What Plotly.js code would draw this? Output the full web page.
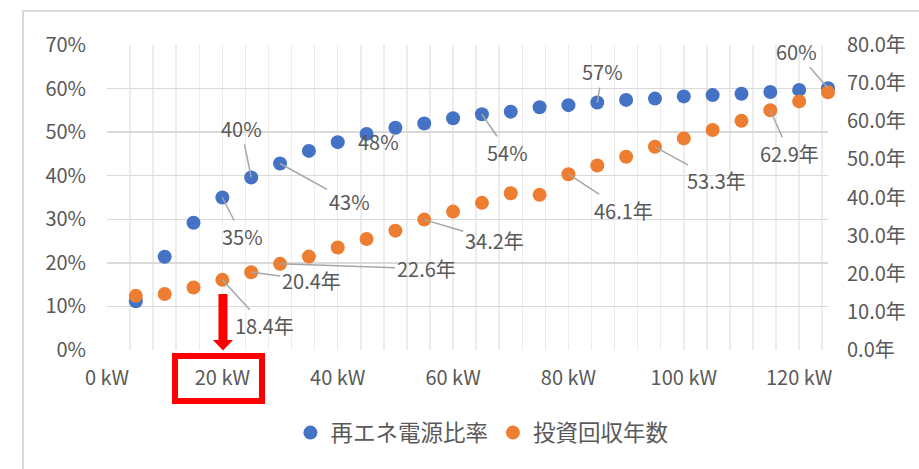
<!DOCTYPE html>
<html>
<head>
<meta charset="utf-8">
<script src="https://cdn.plot.ly/plotly-3.0.1.min.js"></script>
<style>
html,body{margin:0;padding:0;background:#fff;overflow:hidden;}
#chart{width:919px;height:469px;}
#frame{position:absolute;left:22px;top:10px;width:2000px;height:2000px;border:2px solid #d9d9d9;pointer-events:none;}
</style>
</head>
<body>
<div id="chart"></div>
<div id="frame"></div>
<script>
// ---- data ----
const capacityKW = [5,10,15,20,25,30,35,40,45,50,55,60,65,70,75,80,85,90,95,100,105,110,115,120,125];
const renewableRatio = [11.2,21.4,29.2,35.0,39.6,42.8,45.7,47.7,49.6,51.0,52.0,53.2,54.1,54.7,55.7,56.2,56.8,57.4,57.7,58.2,58.5,58.8,59.2,59.7,60.1];
const paybackYears = [14.2,14.7,16.4,18.4,20.4,22.6,24.5,26.9,29.1,31.3,34.2,36.3,38.6,41.1,40.7,46.1,48.4,50.7,53.3,55.5,57.7,60.1,62.9,65.2,67.6];
const seriesNames = ['再エネ電源比率','投資回収年数'];
// labelled points: index and label offsets (px)
const ratioLabelIdx = [3,4,5,7,12,16,24];
const ratioLabelOff = [[20,39],[-10,-49],[69,38],[41,-1],[26,38],[5,-31],[-32,-37]];
const ratioLabelArrow = [true,true,true,false,true,true,true];
const yearLabelIdx = [3,4,5,10,15,18,22];
const yearLabelOff = [[42,46],[60,8],[146,5],[70,21],[55,36],[62,34],[19,43]];

const FONT = '"Noto Sans CJK JP", "Noto Sans", sans-serif';
const TXT = '#595959';
const BLUE = '#4472C4', ORANGE = '#ED7D31';

const traces = [
  {x: capacityKW, y: renewableRatio, name: seriesNames[0], type:'scatter', mode:'markers',
   marker:{color:BLUE, size:14}, yaxis:'y', cliponaxis:false},
  {x: capacityKW, y: paybackYears, name: seriesNames[1], type:'scatter', mode:'markers',
   marker:{color:ORANGE, size:14}, yaxis:'y2', cliponaxis:false}
];

const annotations = [];
ratioLabelIdx.forEach((i,k)=>{
  const a = {x: capacityKW[i], y: renewableRatio[i], xref:'x', yref:'y',
    text: Math.round(renewableRatio[i]) + '%', font:{family:FONT, size:20, color:TXT}};
  if (ratioLabelArrow[k]) {
    Object.assign(a, {showarrow:true, arrowhead:0, arrowwidth:1.5, arrowcolor:'#a6a6a6',
      ax: ratioLabelOff[k][0], ay: ratioLabelOff[k][1], standoff:0});
  } else {
    Object.assign(a, {showarrow:false, xshift: ratioLabelOff[k][0], yshift: -ratioLabelOff[k][1]});
  }
  annotations.push(a);
});
yearLabelIdx.forEach((i,k)=>{
  annotations.push({x: capacityKW[i], y: paybackYears[i], xref:'x', yref:'y2',
    text: paybackYears[i].toFixed(1) + '年', font:{family:FONT, size:20, color:TXT},
    showarrow:true, arrowhead:0, arrowwidth:1.5, arrowcolor:'#a6a6a6',
    ax: yearLabelOff[k][0], ay: yearLabelOff[k][1], standoff:0});
});

const layout = {
  width:919, height:469,
  margin:{l:107, r:91, t:45, b:119},
  paper_bgcolor:'#fff', plot_bgcolor:'#fff',
  font:{family:FONT, size:20, color:TXT},
  showlegend:true,
  legend:{orientation:'h', x:0.52, xanchor:'center', y:-0.272, yanchor:'middle',
    font:{family:FONT, size:22.5, color:TXT}, itemwidth:30, tracegroupgap:0},
  xaxis:{range:[0,125], dtick:20, tick0:0, ticksuffix:' kW', showgrid:true,
    gridcolor:'#ececec', gridwidth:1.5, zeroline:false, showline:false, ticks:'',
    ticklabelstandoff:14,
    minor:{dtick:4, tick0:0, showgrid:true, gridcolor:'#ececec', gridwidth:1.5},
    tickfont:{family:FONT, size:20, color:TXT}},
  yaxis:{range:[0,70], dtick:10, ticksuffix:'%', showgrid:true, gridcolor:'#d9d9d9', gridwidth:1.5,
    zeroline:false, showline:false, ticks:'', ticklabelstandoff:20,
    tickfont:{family:FONT, size:20, color:TXT}},
  yaxis2:{range:[0,80], dtick:10, tickformat:'.1f', ticksuffix:'年', overlaying:'y', side:'right',
    showgrid:false, zeroline:false, showline:false, ticks:'', ticklabelstandoff:18,
    tickfont:{family:FONT, size:20, color:TXT}},
  annotations: annotations,
  shapes:[
    {type:'rect', xref:'paper', yref:'paper', x0:0.0943, x1:0.215, y0:-0.0197, y1:-0.167,
     line:{color:'#ff0000', width:6}, fillcolor:'rgba(0,0,0,0)'},
    {type:'path', xref:'paper', yref:'paper',
     path:'M 0.1546,0.1836 L 0.1671,0.1836 L 0.1671,0.0328 L 0.1748,0.0328 L 0.1609,-0.0016 L 0.1470,0.0328 L 0.1546,0.0328 Z',
     fillcolor:'#ff0000', line:{color:'#ff0000', width:0}}
  ]
};

Plotly.newPlot('chart', traces, layout, {displayModeBar:false, staticPlot:true});
</script>
</body>
</html>
